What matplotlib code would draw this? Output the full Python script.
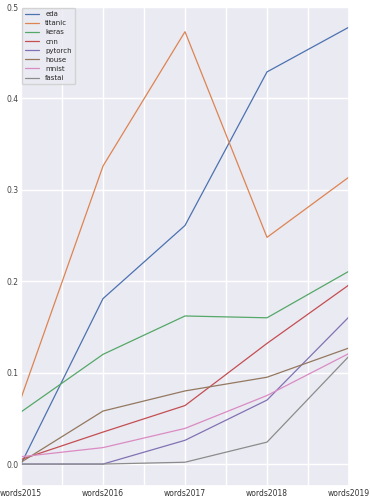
import numpy as np
import pandas as pd
import matplotlib
matplotlib.use("Agg")
import matplotlib.pyplot as plt
import seaborn as sns

# share of posts mentioning each word, per year
years = ["words2015", "words2016", "words2017", "words2018", "words2019"]
eda = [0.000, 0.181, 0.261, 0.429, 0.478]
titanic = [0.072, 0.326, 0.473, 0.248, 0.314]
keras = [0.057, 0.120, 0.162, 0.160, 0.211]
cnn = [0.005, 0.035, 0.064, 0.132, 0.196]
pytorch = [0.000, 0.000, 0.026, 0.070, 0.161]
house = [0.002, 0.058, 0.080, 0.095, 0.127]
mnist = [0.008, 0.018, 0.039, 0.075, 0.121]
fastai = [0.000, 0.000, 0.002, 0.024, 0.118]

df = pd.DataFrame({"eda": eda, "titanic": titanic, "keras": keras, "cnn": cnn,
                   "pytorch": pytorch, "house": house, "mnist": mnist,
                   "fastai": fastai}, index=years)

sns.set_theme(style="darkgrid")
plt.rcParams['font.family'] = ['DejaVu Sans']

fig = plt.figure(figsize=(3.7, 5.0), dpi=100)
ax = fig.add_axes([21/370, 14/500, 328/370, 479/500])

x = np.arange(len(years))
for name in df.columns:
    ax.plot(x, df[name].values, label=name, linewidth=0.9)

ax.set_xlim(0, 4)
ax.set_ylim(-0.024, 0.5)
xt = np.arange(0, 4.01, 0.5)
ax.set_xticks(xt)
ax.set_xticklabels([years[int(t)] if t == int(t) else "" for t in xt])
ax.set_yticks([0.0, 0.1, 0.2, 0.3, 0.4, 0.5])
ax.set_yticklabels(["0.0", "0.1", "0.2", "0.3", "0.4", "0.5"])
ax.tick_params(axis="both", labelsize=5.5, length=0, pad=2, colors="#444444")
for lab in ax.get_xticklabels():
    lab.set_color("#333333")

ax.legend(loc="upper left", fontsize=5, handlelength=2.0, handletextpad=0.9,
          labelspacing=0.45, borderpad=0.45, borderaxespad=0.15,
          framealpha=0.8)

fig.savefig("out.png", dpi=100)
